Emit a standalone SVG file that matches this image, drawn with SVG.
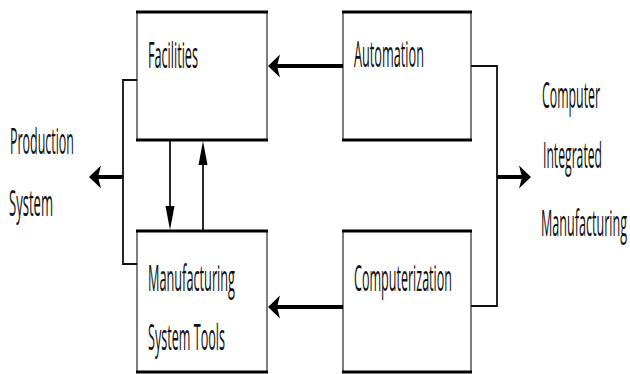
<svg xmlns="http://www.w3.org/2000/svg" xmlns:xlink="http://www.w3.org/1999/xlink" width="630" height="374" viewBox="0 0 630 374">
  <style>
    .side { fill: #ffffff; stroke: #555555; stroke-width: 1.5; }
    .edge { stroke: #000000; stroke-width: 3; }
    .lbl { font-family: "Open Sans", "Liberation Sans", sans-serif; font-size: 12.5px; fill: #111111; }
    .thin { fill: none; stroke: #111111; stroke-width: 1.8; }
    .thick { fill: none; stroke: #000000; stroke-width: 4; }
    .head { fill: #000000; }
  </style>
  <defs>
    <path id="ahL" d="M0,0 L12,-11.5 L9,0 L12,11.5 Z"/>
    <path id="ahV" d="M0,0 L-4.5,-24 L4.5,-24 Z"/>
  </defs>
  <rect width="630" height="374" fill="#ffffff"/>

  <g id="facilities">
    <rect class="side" x="137" y="12" width="130" height="128"/>
    <line class="edge" x1="136" y1="12" x2="268" y2="12"/>
    <line class="edge" x1="136" y1="140" x2="268" y2="140"/>
    <text class="lbl" transform="translate(148,68) scale(1,2.88)" textLength="50" lengthAdjust="spacingAndGlyphs">Facilities</text>
  </g>

  <g id="automation">
    <rect class="side" x="343" y="12" width="128" height="128"/>
    <line class="edge" x1="342" y1="12" x2="472" y2="12"/>
    <line class="edge" x1="342" y1="140" x2="472" y2="140"/>
    <text class="lbl" transform="translate(354,67) scale(1,2.88)" textLength="70" lengthAdjust="spacingAndGlyphs">Automation</text>
  </g>

  <g id="manufacturing-system-tools">
    <rect class="side" x="137" y="231" width="130" height="141"/>
    <line class="edge" x1="136" y1="231" x2="268" y2="231"/>
    <line class="edge" x1="136" y1="372" x2="268" y2="372"/>
    <text class="lbl" transform="translate(148,291) scale(1,2.88)" textLength="87" lengthAdjust="spacingAndGlyphs">Manufacturing</text>
    <text class="lbl" transform="translate(148,350) scale(1,2.88)" textLength="77" lengthAdjust="spacingAndGlyphs">System Tools</text>
  </g>

  <g id="computerization">
    <rect class="side" x="343" y="231" width="128" height="141"/>
    <line class="edge" x1="342" y1="231" x2="472" y2="231"/>
    <line class="edge" x1="342" y1="372" x2="472" y2="372"/>
    <text class="lbl" transform="translate(354,291) scale(1,2.88)" textLength="98" lengthAdjust="spacingAndGlyphs">Computerization</text>
  </g>

  <g id="production-system">
    <text class="lbl" transform="translate(10,154) scale(1,2.88)" textLength="64" lengthAdjust="spacingAndGlyphs">Production</text>
    <text class="lbl" transform="translate(9,216) scale(1,2.88)" textLength="44" lengthAdjust="spacingAndGlyphs">System</text>
  </g>

  <g id="cim">
    <text class="lbl" transform="translate(542,108) scale(1,2.88)" textLength="58" lengthAdjust="spacingAndGlyphs">Computer</text>
    <text class="lbl" transform="translate(543,168) scale(1,2.88)" textLength="59" lengthAdjust="spacingAndGlyphs">Integrated</text>
    <text class="lbl" transform="translate(541,236) scale(1,2.88)" textLength="86" lengthAdjust="spacingAndGlyphs">Manufacturing</text>
  </g>

  <g id="connectors">
    <line class="thick" x1="343" y1="66" x2="276" y2="66"/>
    <use href="#ahL" xlink:href="#ahL" class="head" transform="translate(268,66)"/>
    <line class="thick" x1="343" y1="307" x2="276" y2="307"/>
    <use href="#ahL" xlink:href="#ahL" class="head" transform="translate(268,307)"/>
    <polyline class="thin" points="137,80 123,80 123,264 137,264"/>
    <line class="thick" x1="123" y1="177" x2="98" y2="177"/>
    <use href="#ahL" xlink:href="#ahL" class="head" transform="translate(89,177)"/>
    <polyline class="thin" points="471,66 497,66 497,306 471,306"/>
    <line class="thick" x1="497" y1="177" x2="522" y2="177"/>
    <use href="#ahL" xlink:href="#ahL" class="head" transform="translate(531,177) scale(-1,1)"/>
    <line class="thin" x1="170" y1="141" x2="170" y2="212"/>
    <use href="#ahV" xlink:href="#ahV" class="head" transform="translate(170,230)"/>
    <line class="thin" x1="203" y1="230" x2="203" y2="160"/>
    <use href="#ahV" xlink:href="#ahV" class="head" transform="translate(203,141) scale(1,-1)"/>
  </g>
</svg>
